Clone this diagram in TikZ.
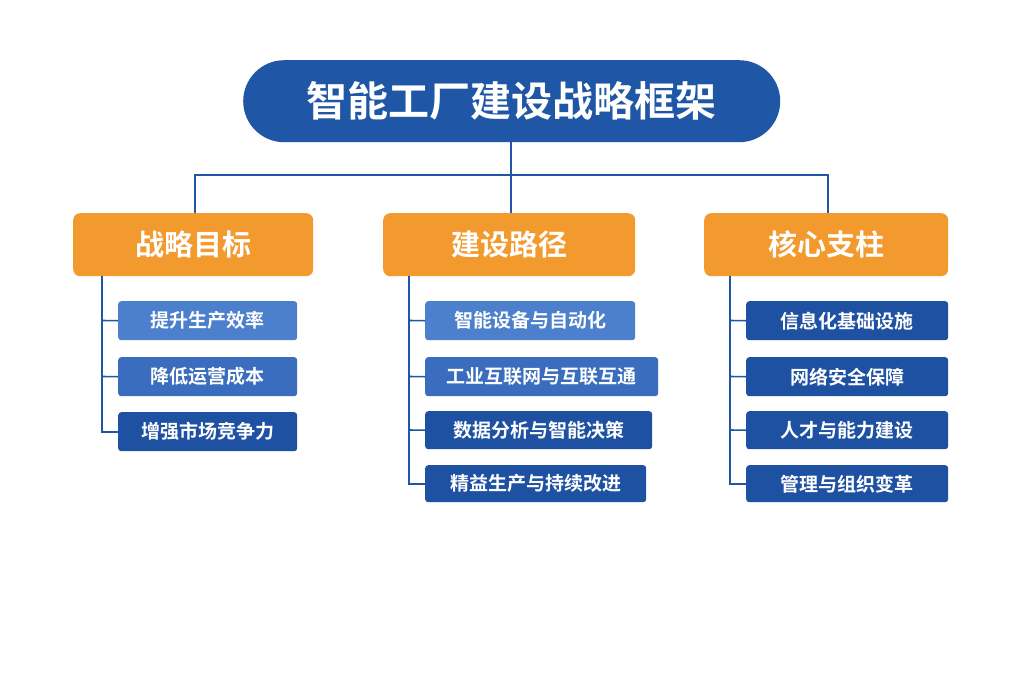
\documentclass[tikz,border=0pt]{standalone}
\usepackage{fontspec}
\newfontfamily\cjk{Noto Sans CJK SC Bold}
\begin{document}
\begin{tikzpicture}[x=1pt,y=-1pt,
  conn/.style={draw=c1,line width=1.6pt},
  cat/.style={fill=orange1,rounded corners=7pt,text=white,font=\cjk\fontsize{29}{29}\selectfont,anchor=north west,inner sep=0},
  item/.style={rounded corners=3pt,text=white,font=\cjk\fontsize{19}{19}\selectfont,anchor=north west,inner sep=0},
]
\definecolor{c1}{HTML}{1F56A6}
\definecolor{orange1}{HTML}{F39A2E}
\definecolor{lb}{HTML}{4C80CC}
\definecolor{mb}{HTML}{3A6DBE}
\definecolor{db}{HTML}{1E51A2}
\useasboundingbox (0,0) rectangle (1024,683);
\fill[white] (0,0) rectangle (1024,683);
\node[fill=c1,rounded corners=41pt,minimum width=537pt,minimum height=82pt,anchor=north west,inner sep=0,text=white,font=\cjk\fontsize{41}{41}\selectfont] (t) at (243,60) {智能工厂建设战略框架};
\node[cat,minimum width=240pt,minimum height=63pt] (a) at (73,213) {战略目标};
\node[cat,minimum width=252pt,minimum height=63pt] (b) at (383,213) {建设路径};
\node[cat,minimum width=244pt,minimum height=63pt] (c) at (704,213) {核心支柱};
\coordinate (j) at (511,175);
\draw[conn] (t.south -| j) -- (j);
\draw[conn] (a.north -| 195,0) |- (j) -| (c.north -| 828,0);
\draw[conn] (j) -- (b.north -| 511,0);
% left
\node[item,fill=lb,minimum width=179pt,minimum height=39pt] (a1) at (118,301) {提升生产效率};
\node[item,fill=mb,minimum width=179pt,minimum height=39pt] (a2) at (118,357) {降低运营成本};
\node[item,fill=db,minimum width=179pt,minimum height=39pt] (a3) at (118,412) {增强市场竞争力};
\draw[conn] (102,276) |- (a3.west);
\draw[conn] (102,320.5) -- (a1.west);
\draw[conn] (102,376.5) -- (a2.west);
% middle
\node[item,fill=lb,minimum width=210pt,minimum height=39pt] (b1) at (425,301) {智能设备与自动化};
\node[item,fill=mb,minimum width=233pt,minimum height=39pt] (b2) at (425,357) {工业互联网与互联互通};
\node[item,fill=db,minimum width=227pt,minimum height=38pt] (b3) at (425,411) {数据分析与智能决策};
\node[item,fill=db,minimum width=221pt,minimum height=37pt] (b4) at (425,465) {精益生产与持续改进};
\draw[conn] (409,276) |- (b4.west);
\draw[conn] (409,320.5) -- (b1.west);
\draw[conn] (409,376.5) -- (b2.west);
\draw[conn] (409,430) -- (b3.west);
% right
\node[item,fill=db,minimum width=202pt,minimum height=39pt] (c1n) at (746,301) {信息化基础设施};
\node[item,fill=db,minimum width=202pt,minimum height=39pt] (c2) at (746,357) {网络安全保障};
\node[item,fill=db,minimum width=202pt,minimum height=38pt] (c3) at (746,411) {人才与能力建设};
\node[item,fill=db,minimum width=202pt,minimum height=37pt] (c4) at (746,465) {管理与组织变革};
\draw[conn] (730,276) |- (c4.west);
\draw[conn] (730,320.5) -- (c1n.west);
\draw[conn] (730,376.5) -- (c2.west);
\draw[conn] (730,430) -- (c3.west);
\end{tikzpicture}
\end{document}
